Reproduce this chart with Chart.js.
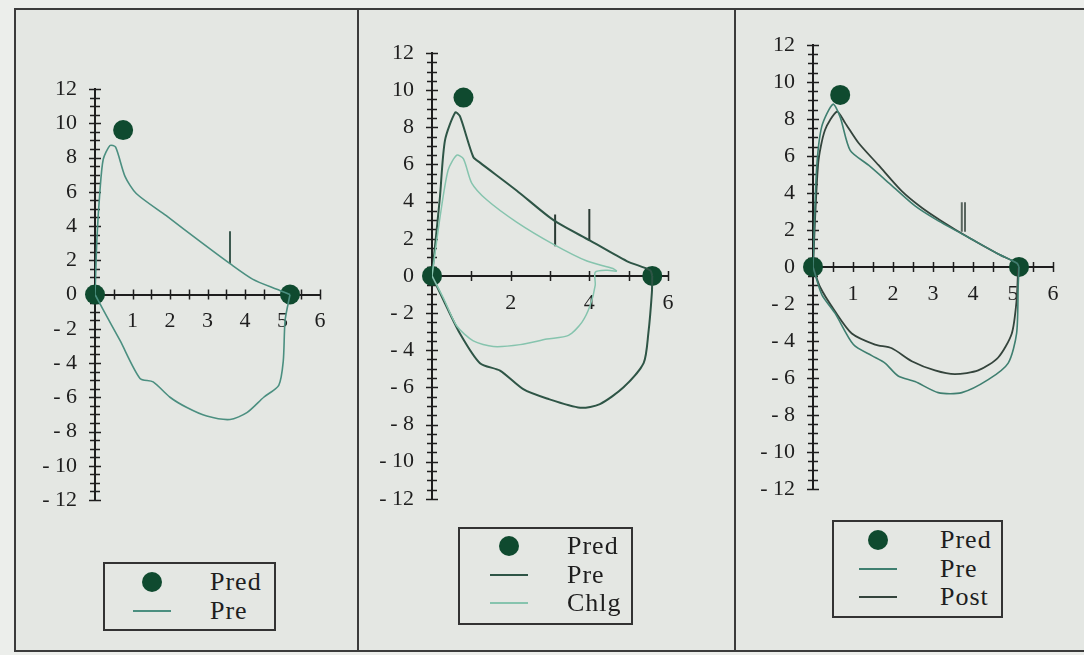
<!DOCTYPE html>
<html>
<head>
<meta charset="utf-8">
<script src="https://cdn.jsdelivr.net/npm/chart.js@4.4.1/dist/chart.umd.min.js"></script>
<style>
  html, body { margin: 0; padding: 0; }
  body { width: 1084px; height: 655px; background: #eceeeb; position: relative; overflow: hidden;
         font-family: 'Liberation Serif', 'Times New Roman', serif; color: #1e1e1e; }
  .frame { position: absolute; left: 14px; top: 8px; width: 1080px; height: 640px; background: #e4e7e3;
           border-left: 2px solid #3b3b3b; border-top: 2px solid #3b3b3b; border-bottom: 2px solid #3b3b3b; }
  .divider { position: absolute; top: 8px; height: 644px; width: 2px; background: #3b3b3b; }
  canvas { position: absolute; }
  .legend { position: absolute; border: 2px solid #333; box-sizing: border-box; }
  .dot { position: absolute; width: 20px; height: 20px; border-radius: 50%; background: #0f4a2f; }
  .ln { position: absolute; height: 2px; }
  .txt { position: absolute; font-size: 26px; line-height: 28px; letter-spacing: 1px; color: #1e1e1e; }
</style>
</head>
<body>
<div class="frame"></div>
<div class="divider" style="left:357px"></div>
<div class="divider" style="left:734px"></div>

<canvas id="c1" width="335" height="530" style="left:15px;top:10px"></canvas>
<canvas id="c2" width="346" height="520" style="left:362px;top:10px"></canvas>
<canvas id="c3" width="340" height="510" style="left:741px;top:10px"></canvas>

<div id="leg1" class="legend" style="left:103px;top:562px;width:173px;height:69px"></div>
<div id="leg2" class="legend" style="left:458px;top:527px;width:175px;height:98px"></div>
<div id="leg3" class="legend" style="left:832px;top:520px;width:171px;height:98px"></div>

<script>
// ---------- tick labels ----------
const yLabels = [-12, -10, -8, -6, -4, -2, 0, 2, 4, 6, 8, 10, 12];
const xLabels1 = [1, 2, 3, 4, 5, 6];
const xLabels2 = [2, 4, 6];
const xLabels3 = [1, 2, 3, 4, 5, 6];

// ---------- panel 1 (Pred / Pre) ----------
const pred1 = [[0, 0], [0.75, 9.6], [5.2, 0]];
const pre1Exp = [[0, 0], [0.05, 3.2], [0.13, 6.0], [0.22, 7.9], [0.4, 8.7], [0.55, 8.6], [0.8, 6.9], [1.1, 5.9],
  [1.9, 4.6], [2.8, 3.1], [3.6, 1.8], [4.2, 0.9], [4.85, 0.3], [5.2, 0]];
const pre1Insp = [[0, 0], [0.22, -0.9], [0.67, -2.7], [1.2, -4.9], [1.55, -5.1], [2.0, -6.0], [2.45, -6.6],
  [2.98, -7.1], [3.6, -7.3], [4.05, -6.9], [4.5, -6.0], [4.9, -5.3], [5.02, -3.9], [5.07, -1.5], [5.2, 0]];
const pre1Mark = [[3.6, 1.8], [3.6, 3.7]];

// ---------- panel 2 (Pred / Pre / Chlg) ----------
const pred2 = [[0, 0], [0.8, 9.6], [5.6, 0]];
const pre2Exp = [[0, 0], [0.2, 4.2], [0.33, 7.3], [0.59, 8.8], [0.71, 8.6], [1.05, 6.4], [1.22, 6.1], [2.15, 4.6],
  [3.09, 3.0], [4.02, 1.9], [4.95, 0.8], [5.55, 0.3], [5.6, 0]];
const pre2Insp = [[0, 0], [0.29, -1.3], [0.71, -3.1], [1.22, -4.7], [1.73, -5.1], [2.32, -6.1], [2.92, -6.6],
  [3.77, -7.1], [4.27, -6.9], [4.87, -6.0], [5.38, -4.7], [5.5, -3.1], [5.59, -0.9], [5.6, 0]];
const chlg2Exp = [[0, 0], [0.2, 3.1], [0.41, 5.7], [0.63, 6.5], [0.8, 6.3], [1.01, 5.0], [1.39, 4.1], [2.15, 2.9],
  [3.09, 1.7], [3.94, 0.8], [4.6, 0.4], [4.7, 0.25]];
const chlg2Insp = [[0, 0], [0.29, -1.2], [0.63, -2.7], [1.05, -3.5], [1.56, -3.8], [2.24, -3.7], [2.92, -3.4],
  [3.47, -3.2], [3.81, -2.5], [4.02, -1.6], [4.15, -0.5], [4.15, 0.2], [4.45, 0.3], [4.7, 0.25]];
const pre2MarkA = [[3.13, 1.6], [3.13, 3.3]];
const pre2MarkB = [[4.0, 1.9], [4.0, 3.6]];

// ---------- panel 3 (Pred / Pre / Post) ----------
const pred3 = [[0, 0], [0.68, 9.3], [5.15, 0]];
const pre3Exp = [[0, 0], [0.09, 5.3], [0.22, 7.6], [0.5, 8.8], [0.68, 8.1], [0.93, 6.3], [1.39, 5.5], [1.97, 4.4],
  [2.55, 3.3], [3.05, 2.6], [3.88, 1.6], [4.63, 0.7], [5.1, 0.2], [5.15, 0]];
const post3Exp = [[0, 0], [0.13, 5.6], [0.3, 7.4], [0.6, 8.4], [0.8, 7.8], [1.14, 6.7], [1.64, 5.5], [2.22, 4.1],
  [2.72, 3.2], [3.2, 2.5], [3.88, 1.6], [4.63, 0.7], [5.1, 0.2], [5.15, 0]];
const pre3Insp = [[0, 0], [0.22, -1.5], [0.55, -2.5], [1.01, -4.2], [1.47, -4.8], [1.8, -5.2], [2.13, -5.9],
  [2.55, -6.2], [3.13, -6.8], [3.72, -6.8], [4.38, -6.1], [4.88, -5.2], [5.09, -3.6], [5.13, -1.0], [5.15, 0]];
const post3Insp = [[0, 0], [0.18, -1.1], [0.55, -2.4], [0.97, -3.6], [1.55, -4.2], [1.97, -4.4], [2.47, -5.1],
  [3.05, -5.6], [3.55, -5.8], [4.13, -5.6], [4.63, -4.9], [4.97, -3.6], [5.09, -1.8], [5.13, -0.1], [5.15, 0]];
const post3MarkA = [[3.72, 1.9], [3.72, 3.5]];
const post3MarkB = [[3.8, 1.9], [3.8, 3.5]];

// ---------- colours ----------
const PRED = '#0f4a2f';
const AXIS = '#1e1e1e';
const FONT = "'Liberation Serif', 'Times New Roman', serif";

const pts = arr => arr.map(p => ({ x: p[0], y: p[1] }));

const curve = (arr, color, width) => ({
  data: pts(arr), showLine: true, borderColor: color, borderWidth: width,
  pointRadius: 0, tension: 0.25, fill: false
});
const mark = (arr, color) => ({
  data: pts(arr), showLine: true, borderColor: color, borderWidth: 2, pointRadius: 0, tension: 0
});
const dots = arr => ({
  data: pts(arr), showLine: false, pointRadius: 10, pointBackgroundColor: PRED,
  pointBorderColor: PRED, pointBorderWidth: 0, clip: false
});

// small "+" tick marks crossing both axes
const crossTicks = {
  id: 'crossTicks',
  beforeDatasetsDraw(chart) {
    const { ctx, scales: { x, y } } = chart;
    const x0 = x.getPixelForValue(0);
    const y0 = y.getPixelForValue(0);
    ctx.save();
    ctx.strokeStyle = AXIS;
    ctx.lineWidth = 1.5;
    ctx.beginPath();
    y.ticks.forEach(t => {
      const py = Math.round(y.getPixelForValue(t.value)) + 0.5;
      const len = (t.value % 2 === 0) ? 6 : 5;
      ctx.moveTo(x0 - len, py); ctx.lineTo(x0 + len, py);
    });
    x.ticks.forEach(t => {
      if (t.value === 0) return;
      const px = Math.round(x.getPixelForValue(t.value)) + 0.5;
      ctx.moveTo(px, y0 - 5); ctx.lineTo(px, y0 + 5);
    });
    ctx.stroke();
    ctx.restore();
  }
};

function makeChart(id, datasets, xLabels, xStep, yWidth, pad) {
  return new Chart(document.getElementById(id), {
    type: 'scatter',
    data: { datasets },
    plugins: [crossTicks],
    options: {
      responsive: false,
      animation: false,
      layout: { padding: pad },
      plugins: { legend: { display: false }, tooltip: { enabled: false } },
      scales: {
        x: {
          type: 'linear', min: 0, max: 6, position: { y: 0 },
          grid: { drawOnChartArea: false, drawTicks: false },
          border: { display: true, color: AXIS, width: 2 },
          ticks: {
            stepSize: xStep, autoSkip: false, padding: 14, color: AXIS, maxRotation: 0,
            font: { family: FONT, size: 22 },
            callback: v => xLabels.includes(v) ? String(v) : ''
          }
        },
        y: {
          type: 'linear', min: -12, max: 12, position: 'left',
          afterFit: s => { s.width = yWidth; },
          grid: { drawOnChartArea: false, drawTicks: false },
          border: { display: true, color: AXIS, width: 2 },
          ticks: {
            stepSize: 0.5, autoSkip: false, padding: 18, color: AXIS,
            font: { family: FONT, size: 22 },
            callback: v => yLabels.includes(v) ? (v < 0 ? '- ' + Math.abs(v) : String(v)) : ''
          }
        }
      }
    }
  });
}

const PRE1 = '#4b8f80';
makeChart('c1', [
  curve(pre1Exp, PRE1, 1.6), curve(pre1Insp, PRE1, 1.6), mark(pre1Mark, '#3d5a50'), dots(pred1)
], xLabels1, 0.5, 80, { left: 0, right: 30, top: 79, bottom: 40 });

const PRE2 = '#2e5546', CHLG2 = '#86c4ae';
makeChart('c2', [
  curve(chlg2Exp, CHLG2, 1.5), curve(chlg2Insp, CHLG2, 1.5),
  curve(pre2Exp, PRE2, 2), curve(pre2Insp, PRE2, 2),
  mark(pre2MarkA, '#2a3a33'), mark(pre2MarkB, '#2a3a33'), dots(pred2)
], xLabels2, 1, 70, { left: 0, right: 40, top: 43, bottom: 30 });

const PRE3 = '#3f7f70', POST3 = '#34443c';
makeChart('c3', [
  curve(pre3Exp, PRE3, 1.6), curve(pre3Insp, PRE3, 1.6),
  curve(post3Exp, POST3, 1.8), curve(post3Insp, POST3, 1.8),
  mark(post3MarkA, '#5a6660'), mark(post3MarkB, '#5a6660'), dots(pred3)
], xLabels3, 0.5, 72, { left: 0, right: 28, top: 35, bottom: 17 });

// ---------- legends (HTML boxes below each chart) ----------
function legend(id, items, symX, textX, firstY, rowH) {
  const box = document.getElementById(id);
  items.forEach((it, i) => {
    const cy = firstY + i * rowH;
    if (it.dot) {
      const d = document.createElement('div');
      d.className = 'dot';
      d.style.left = (symX - 10) + 'px'; d.style.top = (cy - 10) + 'px';
      box.appendChild(d);
    } else {
      const l = document.createElement('div');
      l.className = 'ln';
      l.style.left = (symX - 19) + 'px'; l.style.width = '38px';
      l.style.top = (cy - 1) + 'px'; l.style.background = it.color;
      box.appendChild(l);
    }
    const t = document.createElement('div');
    t.className = 'txt';
    t.textContent = it.label;
    t.style.left = textX + 'px'; t.style.top = (cy - 14) + 'px';
    box.appendChild(t);
  });
}
legend('leg1', [{ label: 'Pred', dot: true }, { label: 'Pre', color: PRE1 }], 47, 105, 18, 29);
legend('leg2', [{ label: 'Pred', dot: true }, { label: 'Pre', color: PRE2 }, { label: 'Chlg', color: CHLG2 }], 49, 107, 17, 28.5);
legend('leg3', [{ label: 'Pred', dot: true }, { label: 'Pre', color: PRE3 }, { label: 'Post', color: POST3 }], 44, 106, 18, 28.5);
</script>
</body>
</html>
